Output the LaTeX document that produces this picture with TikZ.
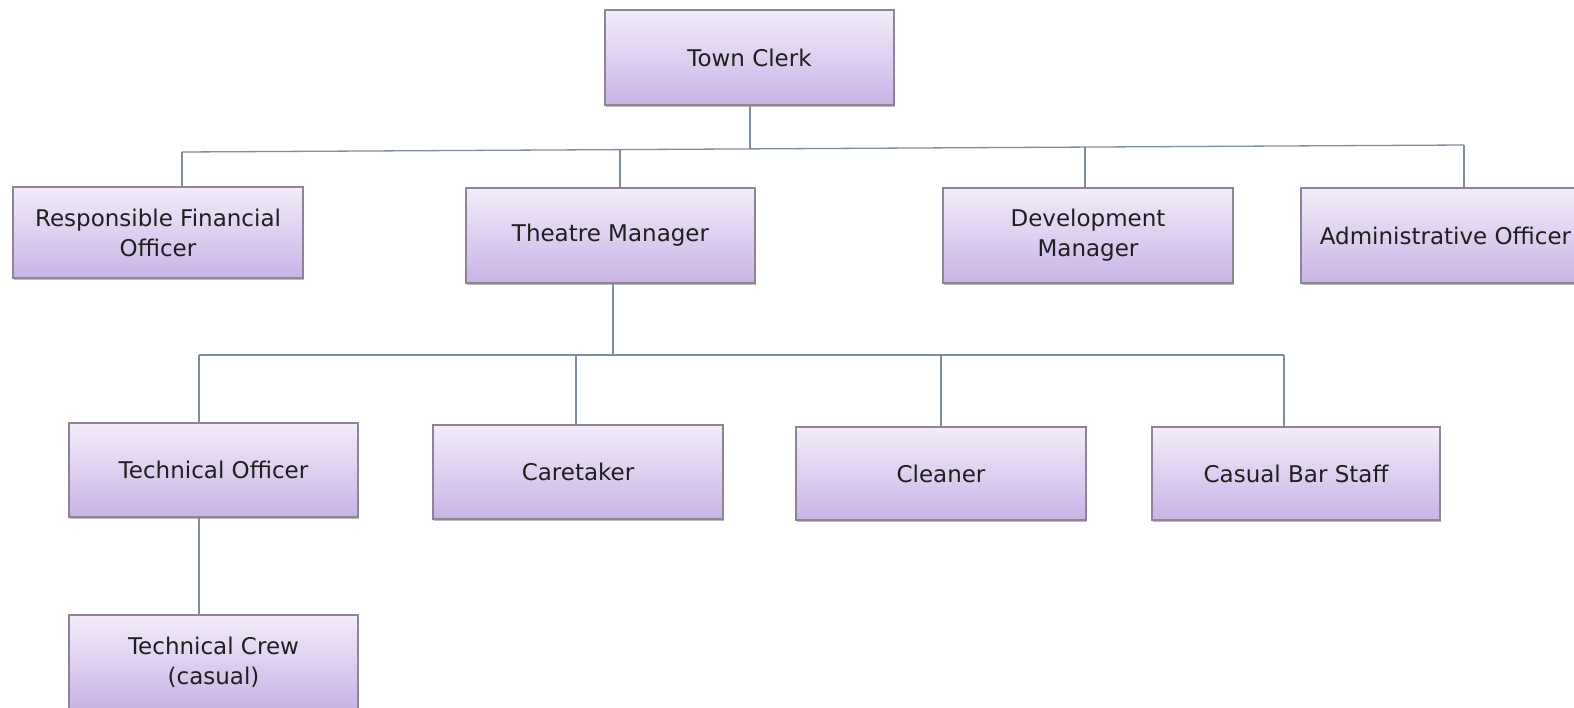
\documentclass[tikz,border=0pt]{standalone}
\usepackage{fontspec}
\setmainfont{DejaVu Sans}
\usetikzlibrary{shadows}
\definecolor{boxtop}{HTML}{F3ECFA}
\definecolor{boxbot}{HTML}{C9B3E6}
\definecolor{boxline}{HTML}{8E8496}
\definecolor{conn}{HTML}{7F8E9C}
\tikzset{
  orgbox/.style={draw=boxline, line width=1.2pt, top color=boxtop, bottom color=boxbot,
    align=center, font=\fontsize{23}{30}\selectfont, text=black!88,
    drop shadow={shadow xshift=1pt, shadow yshift=-2pt, opacity=0.45, fill=black!60},
    inner sep=0pt},
  conline/.style={draw=conn, line width=1.3pt}
}
\begin{document}
\begin{tikzpicture}[x=1pt,y=-1pt]
\useasboundingbox (0,0) rectangle (1574,707);
% level 0
\node[orgbox, minimum width=289pt, minimum height=95pt] (tc) at (749.5,57.5) {Town Clerk};
% level 1
\node[orgbox, minimum width=290pt, minimum height=91pt] (rfo) at (158,232.5) {Responsible Financial\\Officer};
\node[orgbox, minimum width=289pt, minimum height=95pt] (tm) at (610.5,235.5) {Theatre Manager};
\node[orgbox, minimum width=290pt, minimum height=95pt] (dm) at (1088,235.5) {Development\\Manager};
\node[orgbox, minimum width=289pt, minimum height=95pt] (ao) at (1445.5,235.5) {Administrative Officer};
% level 2
\node[orgbox, minimum width=289pt, minimum height=94pt] (to) at (213.5,470) {Technical Officer};
\node[orgbox, minimum width=290pt, minimum height=94pt] (ct) at (578,472) {Caretaker};
\node[orgbox, minimum width=290pt, minimum height=93pt] (cl) at (941,473.5) {Cleaner};
\node[orgbox, minimum width=288pt, minimum height=93pt] (cbs) at (1296,473.5) {Casual Bar Staff};
% level 3
\node[orgbox, minimum width=289pt, minimum height=94pt] (tcr) at (213.5,662) {Technical Crew\\(casual)};
% bus coordinates
\coordinate (b1l) at (182,152);
\coordinate (b1r) at (1464,145);
\coordinate (b1c) at (750,148.9);
\coordinate (b1a) at (620,149.6);
\coordinate (b1d) at (1085,147);
\coordinate (b2l) at (199,355);
\coordinate (b2r) at (1284,355);
\coordinate (b2c) at (613,355);
\coordinate (b2b) at (576,355);
\coordinate (b2e) at (941,355);
% connectors
\draw[conline] (tc.south -| b1c) -- (b1c);
\draw[conline] (b1l) -- (b1r);
\draw[conline] (b1l) -- (b1l |- rfo.north);
\draw[conline] (b1a) -- (b1a |- tm.north);
\draw[conline] (b1d) -- (b1d |- dm.north);
\draw[conline] (b1r) -- (b1r |- ao.north);
\draw[conline] (tm.south -| b2c) -- (b2c);
\draw[conline] (b2l) -- (b2r);
\draw[conline] (b2l) -- (b2l |- to.north);
\draw[conline] (b2b) -- (b2b |- ct.north);
\draw[conline] (b2e) -- (b2e |- cl.north);
\draw[conline] (b2r) -- (b2r |- cbs.north);
\draw[conline] (to.south -| b2l) -- (tcr.north -| b2l);
\end{tikzpicture}
\end{document}
